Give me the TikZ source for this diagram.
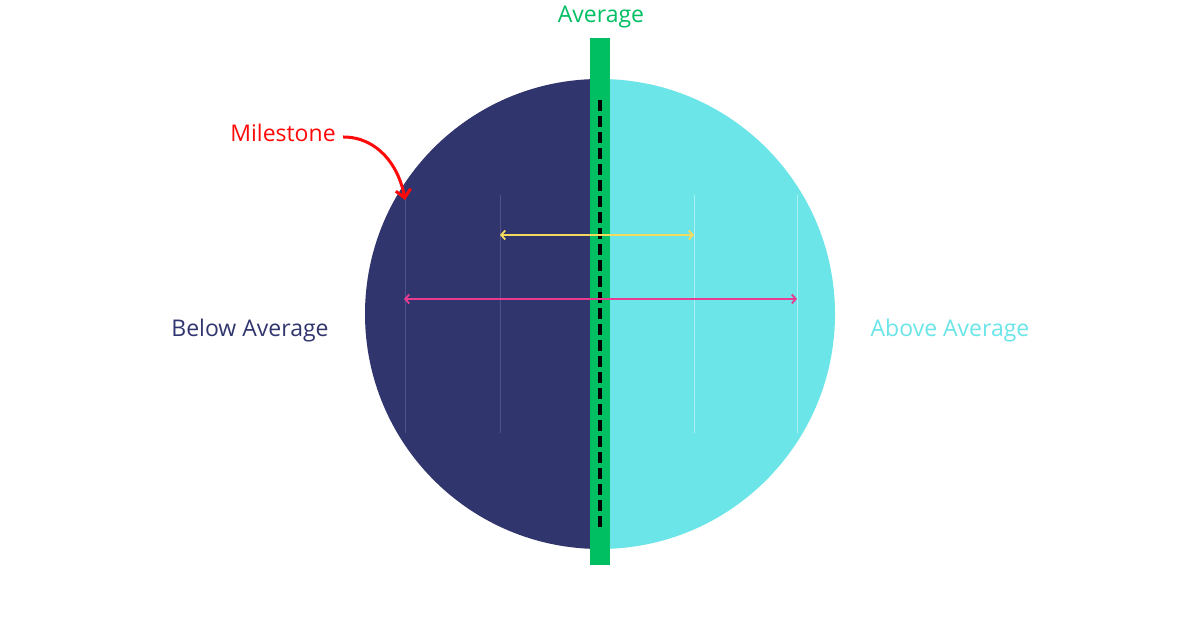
\documentclass[tikz,border=0pt]{standalone}
\usepackage{fontspec}
\setmainfont{Open Sans}
\usetikzlibrary{arrows.meta}
\definecolor{cnavy}{HTML}{31356E}
\definecolor{ccyan}{HTML}{6BE5E8}
\definecolor{cgreen}{HTML}{00BF63}
\definecolor{cyellow}{HTML}{F5DA5E}
\definecolor{cpink}{HTML}{E93B8F}
\definecolor{cred}{HTML}{FF0A0A}
\definecolor{cnavyline}{HTML}{4E5288}
\definecolor{ccyanline}{HTML}{A9F1F2}
\newcommand{\lblfont}{\fontsize{23}{27}\selectfont}

\begin{document}
\begin{tikzpicture}[x=1pt,y=1pt,font=\lblfont,
  guide/.style={line width=0.8pt},
  span/.style={line width=1.8pt,{Straight Barb[length=4pt,width=9pt]}-{Straight Barb[length=4pt,width=9pt]}}]
\useasboundingbox (0,0) rectangle (1200,628);
\fill[white] (0,0) rectangle (1200,628);
\fill[cnavy] (600,79) arc (270:90:235) -- cycle;
\fill[ccyan] (600,79) arc (-90:90:235) -- cycle;
\fill[cgreen] (590,63) rectangle (610,590);
\draw[black,line width=4pt,dash pattern=on 11pt off 5pt] (600,528) -- (600,98);
\draw[guide,cnavyline] (405,433) -- (405,195); \draw[guide,cnavyline] (500,433) -- (500,195);
\draw[guide,ccyanline] (694,433) -- (694,195); \draw[guide,ccyanline] (797,433) -- (797,195);
\coordinate (yl) at (500,393); \coordinate (yr) at (694,393);
\coordinate (pl) at (404,329); \coordinate (pr) at (797,329);
\draw[span,cyellow] (yl) -- (yr);
\draw[span,cpink] (pl) -- (pr);
\node[text=cgreen] (avg) at (601,611) {Average};
\node[text=cnavy] (below) at (250,297) {Below Average};
\node[text=ccyan] (above) at (950,297) {Above Average};
\node[text=cred] (milestone) at (283,495) {Milestone};
\coordinate (mtip) at (405,428);
\draw[cred,line width=3pt,-{Straight Barb[length=8pt,width=15pt]}] ([xshift=4pt,yshift=-4pt]milestone.east) to[out=0,in=100] (mtip);
\end{tikzpicture}
\end{document}
